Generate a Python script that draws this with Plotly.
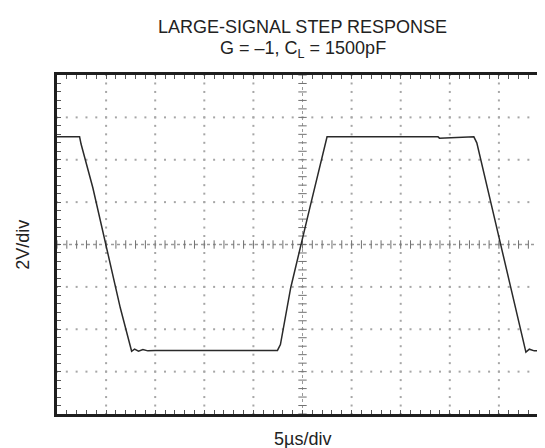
import plotly.graph_objects as go

# Waveform (time in µs, output in V)
time_us = [0, 2.3, 2.45, 3.65, 6.45, 7.6, 7.9, 8.3, 8.75, 9.25, 10.0, 22.45, 22.75,
           23.8, 25.75, 27.5, 38.8, 38.95, 42.45, 42.75, 44.3, 46.65, 47.75, 48.1, 48.6, 50.0]
volts = [5.08, 5.08, 4.74, 2.68, -3.0, -5.04, -4.94, -5.04, -4.96, -5.02, -5.0, -5.0, -4.72,
         -2.04, 1.74, 5.08, 5.08, 5.02, 5.08, 4.8, 1.74, -3.0, -5.08, -4.94, -5.02, -5.0]

title_line1 = "LARGE-SIGNAL STEP RESPONSE"
title_line2 = "G = \u20131, C<sub>L</sub> = 1500pF"
x_label = "5\u00b5s/div"
y_label = "2V/div"

X_DIV, Y_DIV = 5.0, 2.0          # µs/div, V/div
X_RANGE, Y_RANGE = [0, 50], [-8, 8]
MINOR = 5

W, H = 545, 448
L, R, T, B = 49, 2, 67, 42
PW, PH = W - L - R, H - T - B


def px_x(p):
    return (p - L) / PW


def px_y(p):
    return (H - B - p) / PH


fig = go.Figure()

# dotted graticule
gx, gy = [], []
for i in range(1, 10):
    if i == 5:
        continue
    for k in range(0, 8 * MINOR + 1):
        gx.append(i * X_DIV)
        gy.append(Y_RANGE[0] + k * Y_DIV / MINOR)
for j in range(-3, 4):
    if j == 0:
        continue
    for k in range(0, 10 * MINOR + 1):
        gx.append(X_RANGE[0] + k * X_DIV / MINOR)
        gy.append(j * Y_DIV)
fig.add_trace(go.Scatter(x=gx, y=gy, mode="markers",
                         marker=dict(symbol="square", size=2, color="#a6a6a6", line=dict(width=0)),
                         hoverinfo="skip"))

# center crosshair ticks
cx = [X_RANGE[0] + k * X_DIV / MINOR for k in range(0, 10 * MINOR + 1)]
fig.add_trace(go.Scatter(x=cx, y=[0] * len(cx), mode="markers",
                         marker=dict(symbol="line-ns", size=6, line=dict(width=1, color="#707070")),
                         hoverinfo="skip"))
cy = [Y_RANGE[0] + k * Y_DIV / MINOR for k in range(0, 8 * MINOR + 1)]
fig.add_trace(go.Scatter(x=[25] * len(cy), y=cy, mode="markers",
                         marker=dict(symbol="line-ew", size=6, line=dict(width=1, color="#707070")),
                         hoverinfo="skip"))
fig.add_shape(type="line", x0=X_RANGE[0], x1=X_RANGE[1], y0=0, y1=0,
              line=dict(color="#9a9a9a", width=1.5, dash="dot"), layer="below")
fig.add_shape(type="line", x0=25, x1=25, y0=Y_RANGE[0], y1=Y_RANGE[1],
              line=dict(color="#9a9a9a", width=1, dash="dot"), layer="below")

# waveform
fig.add_trace(go.Scatter(x=time_us, y=volts, mode="lines",
                         line=dict(color="#2a2a2a", width=1.5), hoverinfo="skip"))

FONT = "Liberation Sans, Arial, sans-serif"
ann = dict(xref="paper", yref="paper", showarrow=False,
           font=dict(family=FONT, size=18, color="#222"))
fig.add_annotation(text=title_line1, x=0.5, y=px_y(18.5), xanchor="center", yanchor="middle", **ann)
fig.add_annotation(text=title_line2, x=0.5, y=px_y(42), xanchor="center", yanchor="middle", **ann)
fig.add_annotation(text=x_label, x=0.5, y=px_y(431), xanchor="center", yanchor="middle", **ann)
fig.add_annotation(text=y_label, x=px_x(14), y=0.5, xanchor="center", yanchor="middle",
                   textangle=-90, **ann)

axis_common = dict(showgrid=False, zeroline=False, showticklabels=False,
                   showline=True, linewidth=3, linecolor="#1e1e1e", mirror="allticks",
                   ticks="inside", ticklen=4, tickwidth=1, tickcolor="#555", fixedrange=True)
fig.update_xaxes(range=X_RANGE, dtick=X_DIV / MINOR, tick0=0, **axis_common)
fig.update_yaxes(range=Y_RANGE, dtick=Y_DIV / MINOR, tick0=0, **axis_common)

fig.update_layout(width=W, height=H, margin=dict(l=L, r=R, t=T, b=B),
                  plot_bgcolor="white", paper_bgcolor="white", showlegend=False,
                  hovermode=False)

fig.write_html("out.html")
